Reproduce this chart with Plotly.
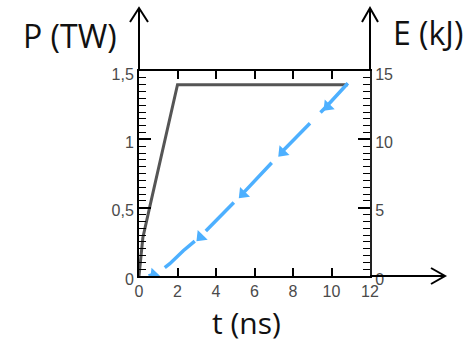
import plotly.graph_objects as go

# ---- data ----
t_power = [0, 0.2, 0.55, 2.0, 10.85]
p_power = [0, 0.28, 0.5, 1.4, 1.4]

t_energy = [10.85, 9.8, 7.4, 5.4, 3.2, 2.3, 1.6, 1.0, 0.5]
e_energy = [14.1, 12.5, 9.05, 6.05, 2.9, 1.85, 0.9, 0.25, 0.0]

t_arrows = [9.8, 7.45, 5.4, 3.2, 0.8]
e_arrows = [12.4, 9.05, 6.0, 2.85, 0.1]

x_ticks = [0, 2, 4, 6, 8, 10, 12]
y1_ticks = [0, 0.5, 1, 1.5]
y1_text = ["0", "0,5", "1", "1,5"]
y2_ticks = [0, 5, 10, 15]

# ---- layout geometry (pixels) ----
W, H = 469, 342
L, R, T, B = 139, 370, 71, 276


def px(x):
    return (x - L) / (R - L)


def py(y):
    return (B - y) / (B - T)


fig = go.Figure()
fig.add_trace(go.Scatter(x=t_power, y=p_power, mode="lines",
                         line=dict(color="#555555", width=3), yaxis="y",
                         hoverinfo="skip", showlegend=False))
fig.add_trace(go.Scatter(x=t_energy, y=e_energy, mode="lines",
                         line=dict(color="#4db0ff", width=3.5, dash="40px,15px"),
                         yaxis="y2", hoverinfo="skip", showlegend=False))
fig.add_trace(go.Scatter(x=t_arrows, y=e_arrows, mode="markers",
                         marker=dict(symbol="triangle-up", size=12, angle=224,
                                     color="#4db0ff", line=dict(width=0)),
                         yaxis="y2", hoverinfo="skip", showlegend=False))

tickfont = dict(family="Liberation Sans, Arial", size=16, color="#4a4a4a")

fig.update_layout(
    width=W, height=H,
    margin=dict(l=L, r=W - R, t=T, b=H - B, pad=0),
    paper_bgcolor="white", plot_bgcolor="white",
    xaxis=dict(range=[0, 12], tickvals=x_ticks, ticks="inside", ticklen=8,
               tickwidth=1.5, tickcolor="black", showline=True, linecolor="black",
               linewidth=2, mirror="ticks", showgrid=False, zeroline=False,
               tickfont=tickfont),
    yaxis=dict(range=[0, 1.5], tickvals=y1_ticks, ticktext=y1_text,
               ticks="inside", ticklen=12, tickwidth=1.5, tickcolor="black",
               showline=True, linecolor="black", linewidth=2, showgrid=False,
               zeroline=False, tickfont=tickfont, ticklabelshift=3,
               minor=dict(dtick=0.05, tick0=0, ticks="inside", ticklen=7,
                          tickwidth=1.2, tickcolor="black", showgrid=False)),
    yaxis2=dict(range=[0, 15], tickvals=y2_ticks, overlaying="y", side="right",
                ticks="inside", ticklen=12, tickwidth=1.5, tickcolor="black",
                showline=True, linecolor="#222222", linewidth=2, showgrid=False,
                zeroline=False, tickfont=tickfont, ticklabelshift=3,
                minor=dict(dtick=0.5, tick0=0, ticks="inside", ticklen=7,
                           tickwidth=1.2, tickcolor="black", showgrid=False)),
)

# axis arrows
line_style = dict(color="black", width=2)
shapes = [
    dict(type="line", xref="paper", yref="paper", x0=px(L), y0=py(T), x1=px(L), y1=py(8), line=line_style),
    dict(type="path", xref="paper", yref="paper",
         path=f"M{px(L-9)},{py(22)} L{px(L)},{py(8)} L{px(L+9)},{py(22)}", line=line_style),
    dict(type="line", xref="paper", yref="paper", x0=px(R), y0=py(T), x1=px(R), y1=py(8), line=line_style),
    dict(type="path", xref="paper", yref="paper",
         path=f"M{px(R-8)},{py(22)} L{px(R)},{py(8)} L{px(R+8)},{py(22)}", line=line_style),
    dict(type="line", xref="paper", yref="paper", x0=px(R), y0=py(B), x1=px(445), y1=py(B), line=line_style),
    dict(type="path", xref="paper", yref="paper",
         path=f"M{px(431)},{py(B-8)} L{px(445)},{py(B)} L{px(431)},{py(B+8)}", line=line_style),
]
fig.update_layout(shapes=shapes)

titlefont = dict(family="Open Sans", size=32, color="#111111")
fig.add_annotation(text="P (TW)", xref="paper", yref="paper", x=px(70), y=py(35),
                   xanchor="center", yanchor="middle", showarrow=False, font=titlefont)
fig.add_annotation(text="E (kJ)", xref="paper", yref="paper", x=px(428), y=py(32),
                   xanchor="center", yanchor="middle", showarrow=False, font=titlefont)
fig.add_annotation(text="t (ns)", xref="paper", yref="paper", x=px(246), y=py(322),
                   xanchor="center", yanchor="middle", showarrow=False,
                   font=dict(family="Open Sans", size=30, color="#111111"))

fig.write_html("out.html")
